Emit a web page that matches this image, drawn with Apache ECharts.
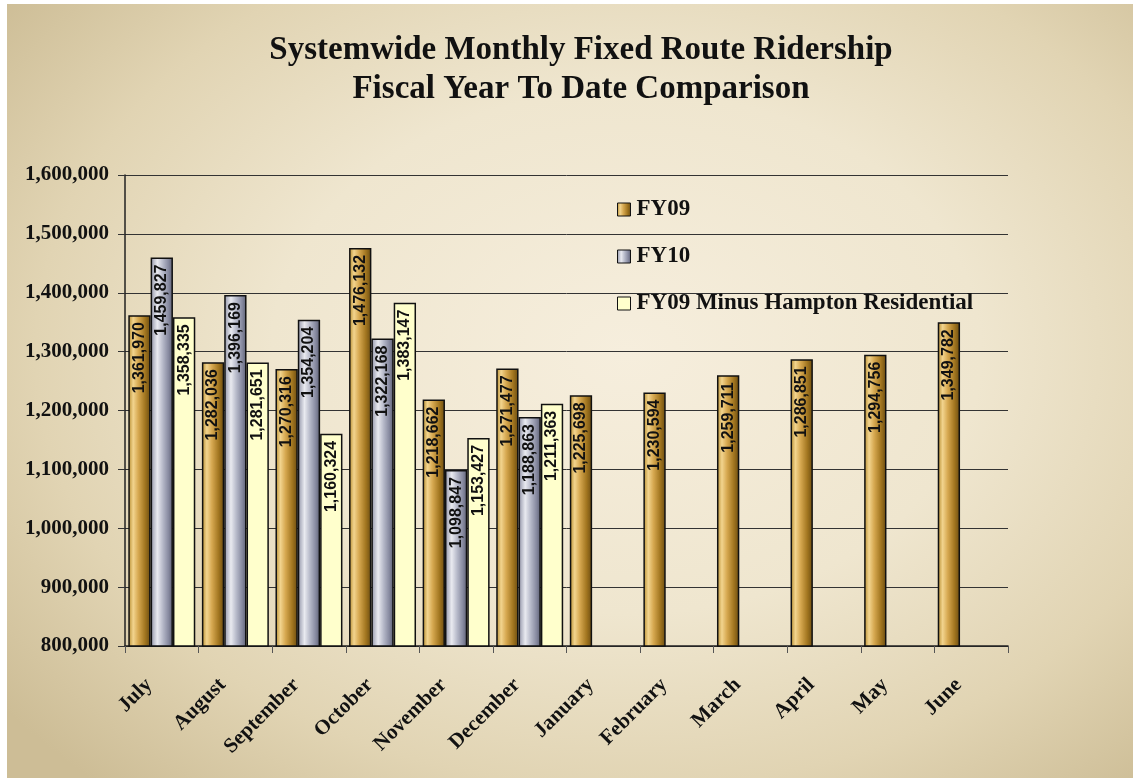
<!DOCTYPE html>
<html>
<head>
<meta charset="utf-8">
<script src="https://cdn.jsdelivr.net/npm/echarts@6/dist/echarts.min.js"></script>
<style>
  html, body { margin: 0; padding: 0; background: #fff; }
  #chart {
    position: absolute; left: 7px; top: 4px; width: 1126px; height: 774px;
    background: radial-gradient(ellipse 70% 75% at 55% 45%, #f6eedd 0%, #efe6cf 45%, #e1d4b3 75%, #cdbd96 100%);
  }
</style>
</head>
<body>
<div id="chart"></div>
<script>
const months = ["July", "August", "September", "October", "November", "December",
  "January", "February", "March", "April", "May", "June"];
const fy09 = [1361970, 1282036, 1270316, 1476132, 1218662, 1271477,
  1225698, 1230594, 1259711, 1286851, 1294756, 1349782];
const fy10 = [1459827, 1396169, 1354204, 1322168, 1098847, 1188863,
  null, null, null, null, null, null];
const fy09Minus = [1358335, 1281651, 1160324, 1383147, 1153427, 1211363,
  null, null, null, null, null, null];
const yTicks = [800000, 900000, 1000000, 1100000, 1200000, 1300000, 1400000, 1500000, 1600000];

const serif = "'Liberation Serif', 'DejaVu Serif', serif";
const sans = "'Liberation Sans', Arial, sans-serif";
const fmt = (n) => Number(n).toLocaleString("en-US");

// 横向渐变,模仿原图的金色/银色立体柱
const grad = (stops) => ({
  type: "linear", x: 0, y: 0, x2: 1, y2: 0,
  colorStops: stops.map(([offset, color]) => ({ offset, color })),
});
const goldFill = grad([[0, "#b48a2c"], [0.22, "#f2d48e"], [0.45, "#d6a850"], [0.75, "#a27620"], [1, "#6a4b10"]]);
const silverFill = grad([[0, "#8f92a6"], [0.3, "#e9eaf0"], [0.55, "#b5b8c8"], [0.8, "#878aa0"], [1, "#5c5f73"]]);
const creamFill = "#ffffcc";

const barLabel = {
  show: true,
  position: "insideTop",
  rotate: 90,
  align: "right",
  verticalAlign: "middle",
  distance: 7,
  fontFamily: sans,
  fontWeight: "bold",
  fontSize: 16,
  color: "#111",
  formatter: (p) => fmt(p.value),
};

function bar(name, data, fill) {
  return {
    name,
    type: "bar",
    data,
    barGap: "0%",
    barCategoryGap: "9%",
    itemStyle: { color: fill, borderColor: "#111", borderWidth: 1.5 },
    label: barLabel,
  };
}

const chart = echarts.init(document.getElementById("chart"), null, { renderer: "canvas" });
chart.setOption({
  animation: false,
  backgroundColor: "transparent",
  title: {
    text: "Systemwide Monthly Fixed Route Ridership\nFiscal Year To Date Comparison",
    left: 569,
    textAlign: "center",
    top: 22,
    textStyle: {
      fontFamily: serif,
      fontWeight: "bold",
      fontSize: 33,
      lineHeight: 39,
      color: "#111",
    },
  },
  legend: {
    orient: "vertical",
    left: 605,
    top: 189,
    itemWidth: 13,
    itemHeight: 13,
    itemGap: 24,
    icon: "rect",
    textStyle: { fontFamily: serif, fontWeight: "bold", fontSize: 23, color: "#111", padding: [0, 0, 0, 1] },
    itemStyle: { borderColor: "#111", borderWidth: 1 },
    data: ["FY09", "FY10", "FY09 Minus Hampton Residential"],
  },
  grid: { left: 118, right: 125, top: 171, bottom: 132, containLabel: false },
  xAxis: {
    type: "category",
    data: months,
    axisLine: { lineStyle: { color: "#222", width: 1.5 } },
    axisTick: { show: true, length: 7, lineStyle: { color: "#555" } },
    axisLabel: {
      rotate: 45,
      margin: 23,
      padding: [0, 18, 0, 0],
      fontFamily: serif,
      fontWeight: "bold",
      fontSize: 21,
      color: "#111",
    },
  },
  yAxis: {
    type: "value",
    min: yTicks[0],
    max: yTicks[yTicks.length - 1],
    interval: yTicks[1] - yTicks[0],
    axisLine: { show: true, lineStyle: { color: "#222", width: 1.5 } },
    axisTick: { show: true, length: 7, lineStyle: { color: "#333" } },
    axisLabel: {
      margin: 16,
      fontFamily: serif,
      fontWeight: "bold",
      fontSize: 21,
      color: "#111",
      formatter: (v) => fmt(v),
    },
    splitLine: { lineStyle: { color: "#333", width: 1 } },
  },
  series: [
    bar("FY09", fy09, goldFill),
    bar("FY10", fy10, silverFill),
    bar("FY09 Minus Hampton Residential", fy09Minus, creamFill),
  ],
});
</script>
</body>
</html>
